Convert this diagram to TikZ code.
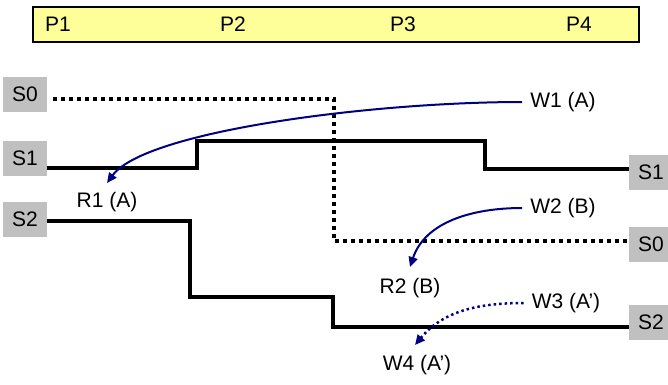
\documentclass[tikz,border=0pt]{standalone}
\usepackage{fontspec}
\setmainfont{Liberation Sans}
\usetikzlibrary{arrows.meta,calc}
\definecolor{sigbox}{RGB}{192,192,192}
\definecolor{barfill}{RGB}{255,255,153}
\definecolor{arrowblue}{RGB}{0,0,128}

\begin{document}
\begin{tikzpicture}[x=1pt,y=-1pt,
  every node/.style={font=\fontsize{21}{25}\selectfont, inner sep=0pt},
  sbox/.style={fill=sigbox, minimum width=44pt, minimum height=35pt},
  sig/.style={line width=4pt, line join=miter},
  sigdot/.style={line width=4pt, dash pattern=on 4pt off 4pt},
  flow/.style={arrowblue, line width=2pt, -{Triangle[length=10pt,width=9pt]}},
  flowdot/.style={flow, line width=2.5pt, dash pattern=on 2.5pt off 3pt},
]
\useasboundingbox (0,0) rectangle (668,384);

% phase bar
\node[draw, line width=1.5pt, fill=barfill, minimum width=606pt, minimum height=35pt,
      anchor=north west] (bar) at (32,6) {};
\node (p1) at (58,24) {P1};
\node (p2) at (233,24) {P2};
\node (p3) at (403,24) {P3};
\node (p4) at (579,24) {P4};

% signal labels
\node[sbox] (s0L) at (25,94.5) {S0};
\node[sbox] (s1L) at (25,158.5) {S1};
\node[sbox] (s2L) at (25,219.5) {S2};
\node[sbox] (s1R) at (651,172.5) {S1};
\node[sbox] (s0R) at (651,244) {S0};
\node[sbox] (s2R) at (651,322) {S2};

% signal traces
\draw[sigdot] ([xshift=6pt]s0L.east |- 0,99) -- (334,99) -- (334,241) -- (s0R.west |- 0,241);
\draw[sig] (s1L.east |- 0,168) -- (197,168) -- (197,141) -- (485,141) -- (485,169) -- (s1R.west |- 0,169);
\draw[sig] (s2L.east |- 0,221) -- (190,221) -- (190,297) -- (333,297) -- (333,327) -- (s2R.west |- 0,327);

% access labels
\node (w1) at (563,102) {W1 (A)};
\node (r1) at (107,202) {R1 (A)};
\node (w2) at (563,208) {W2 (B)};
\node (r2) at (410,288) {R2 (B)};
\node (w3) at (566,303) {W3 (A’)};
\node (w4) at (417,365) {W4 (A’)};

% end points of the data flow arrows (shifts are in page units, upwards)
\coordinate (r1tip) at ([yshift=9pt]r1.north);
\coordinate (r2tip) at ([yshift=11pt]r2.north);
\coordinate (w4tip) at ([xshift=-2pt,yshift=10pt]w4.north);

% data flow arrows
\draw[flow] ([xshift=-8pt]w1.west) .. controls +(-150,0) and +(38,-52) .. (r1tip);
\draw[flow] ([xshift=-8pt]w2.west) .. controls +(-50,0) and +(15,-45) .. (r2tip);
\draw[flowdot] ([xshift=-8pt]w3.west) .. controls +(-45,0) and +(28,-34) .. (w4tip);
\end{tikzpicture}
\end{document}
